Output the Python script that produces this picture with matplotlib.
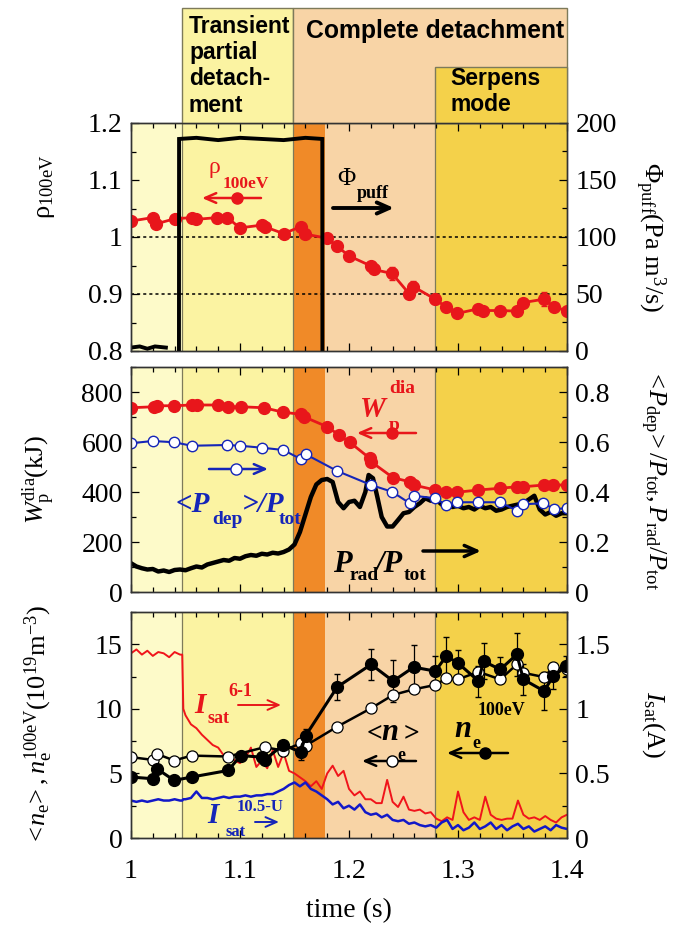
import numpy as np
import matplotlib
matplotlib.use('Agg')
import matplotlib.pyplot as plt
from matplotlib.patches import Rectangle, FancyArrowPatch
from matplotlib.lines import Line2D
from matplotlib.ticker import MultipleLocator, FuncFormatter

plt.rcParams['font.family'] = ['Liberation Serif', 'DejaVu Serif']
plt.rcParams['mathtext.fontset'] = 'custom'
plt.rcParams['mathtext.rm'] = 'Liberation Serif'
plt.rcParams['mathtext.it'] = 'Liberation Serif:italic'
plt.rcParams['mathtext.bf'] = 'Liberation Serif:bold'

# ---------------- data ----------------
region_edges = [1.0, 1.047, 1.149, 1.178, 1.279, 1.4]
region_colors = ['#FDFAC9', '#FBF3A2', '#F08A28', '#F8D4A6', '#F4D14A']
region_names = ['Transient\npartial\ndetach-\nment', 'Complete detachment', 'Serpens\nmode']

rho_t = [1.000, 1.0198, 1.023, 1.040, 1.056, 1.060, 1.079, 1.0885, 1.0998, 1.1205, 1.1226,
         1.140, 1.1556, 1.160, 1.1795, 1.189, 1.1998, 1.2203, 1.2225, 1.2395, 1.2554, 1.259,
         1.279, 1.289, 1.2995, 1.3186, 1.3232, 1.3387, 1.354, 1.360, 1.379, 1.388, 1.3998]
rho = [1.028, 1.034, 1.023, 1.032, 1.034, 1.031, 1.034, 1.034, 1.016, 1.021, 1.018,
       1.006, 1.018, 1.005, 0.998, 0.984, 0.967, 0.949, 0.943, 0.936, 0.900, 0.913,
       0.891, 0.877, 0.866, 0.874, 0.871, 0.871, 0.870, 0.885, 0.891, 0.877, 0.871]
rho_err = [0, 0, 0, 0, 0, 0, 0, 0, 0, 0, 0, 0, 0, 0, 0,
           0.004, 0.005, 0.006, 0.006, 0.012, 0.006, 0.010, 0.008, 0.006, 0.004,
           0.005, 0.005, 0.005, 0.005, 0.006, 0.012, 0.006, 0.005]

puff_t = [1.000, 1.008, 1.015, 1.022, 1.032, 1.0321, 1.0440, 1.0441, 1.060, 1.080, 1.100,
          1.120, 1.140, 1.160, 1.1755, 1.1756]
puff = [3, 4, 2, 4, 3, np.nan, 0, 186, 187, 185, 187, 186, 185, 187, 186, 0]

wp_t = [1.000, 1.0213, 1.0238, 1.0397, 1.0556, 1.0604, 1.0794, 1.0891, 1.1007, 1.1220,
        1.1398, 1.1556, 1.1586, 1.1800, 1.1907, 1.2007, 1.2190, 1.2203, 1.2405, 1.2557,
        1.2593, 1.2792, 1.2892, 1.2990, 1.3188, 1.3387, 1.3540, 1.3600, 1.3789, 1.3875, 1.3997]
wp = [737, 741, 745, 745, 748, 748, 748, 741, 741, 737, 719, 711, 701, 661, 628, 599,
      535, 521, 457, 441, 428, 408, 399, 399, 408, 415, 421, 421, 428, 428, 428]

pdep_t = [1.000, 1.0199, 1.0396, 1.0556, 1.0885, 1.1000, 1.1205, 1.1398, 1.1556, 1.1602,
          1.1892, 1.2203, 1.2395, 1.2557, 1.2593, 1.2792, 1.2892, 1.2990, 1.3188, 1.3387,
          1.3545, 1.3600, 1.3783, 1.3881, 1.3997]
pdep = [0.595, 0.604, 0.599, 0.585, 0.588, 0.585, 0.577, 0.568, 0.532, 0.551, 0.484,
        0.428, 0.401, 0.355, 0.385, 0.375, 0.348, 0.359, 0.359, 0.359, 0.324, 0.351,
        0.355, 0.332, 0.335]

prad_t = [1.000, 1.005, 1.010, 1.015, 1.020, 1.025, 1.030, 1.035, 1.040, 1.045,
          1.050, 1.055, 1.060, 1.065, 1.070, 1.075, 1.080, 1.085, 1.090, 1.095,
          1.100, 1.105, 1.110, 1.115, 1.120, 1.125, 1.130, 1.135, 1.140, 1.145,
          1.150, 1.155, 1.160, 1.165, 1.170, 1.175, 1.180, 1.185, 1.190, 1.195,
          1.200, 1.205, 1.210, 1.215, 1.218, 1.222, 1.226,
          1.230, 1.235, 1.240, 1.245, 1.250, 1.255, 1.260, 1.265, 1.270, 1.275,
          1.280, 1.285, 1.290, 1.295, 1.300, 1.305, 1.310, 1.315, 1.320, 1.325,
          1.330, 1.335, 1.340, 1.345, 1.350, 1.355, 1.360, 1.365, 1.370, 1.375,
          1.380, 1.385, 1.390, 1.395, 1.400]
prad = [0.115, 0.102, 0.095, 0.090, 0.092, 0.082, 0.086, 0.080, 0.088, 0.090,
        0.087, 0.095, 0.102, 0.098, 0.110, 0.116, 0.122, 0.128, 0.125, 0.136,
        0.133, 0.143, 0.148, 0.145, 0.153, 0.150, 0.157, 0.154, 0.160, 0.170,
        0.190, 0.240, 0.310, 0.380, 0.430, 0.448, 0.452, 0.440, 0.360, 0.335,
        0.360, 0.365, 0.340, 0.400, 0.468, 0.455, 0.380,
        0.300, 0.262, 0.262, 0.288, 0.315, 0.320, 0.340, 0.355, 0.375, 0.365,
        0.370, 0.350, 0.345, 0.340, 0.345, 0.335, 0.340, 0.330, 0.345, 0.335,
        0.340, 0.325, 0.330, 0.340, 0.345, 0.350, 0.355, 0.370, 0.385, 0.330,
        0.310, 0.320, 0.305, 0.315, 0.315]

ne100_t = [1.000, 1.0199, 1.0238, 1.0396, 1.0556, 1.0891, 1.1007, 1.1205, 1.1226, 1.1398,
           1.1556, 1.1602, 1.1892, 1.2203, 1.2405, 1.2593, 1.2792, 1.2892, 1.2998, 1.3188,
           1.3234, 1.3387, 1.3540, 1.3600, 1.3789, 1.3875, 1.3995]
ne100 = [4.72, 4.59, 5.36, 4.46, 4.72, 5.23, 6.38, 6.26, 6.05, 7.23, 6.64, 7.92, 11.69,
         13.44, 12.15, 13.23, 12.92, 14.08, 13.56, 12.15, 13.69, 13.05, 14.21, 12.28,
         11.38, 12.54, 13.31]
ne100_err = [0, 0, 0, 0, 0, 0, 0, 0, 0, 0, 0.6, 0.5, 1.0, 1.2, 1.6, 1.7, 1.2, 1.5, 1.0,
             1.2, 1.4, 1.0, 1.7, 1.2, 1.5, 1.0, 0.8]

neavg_t = [1.000, 1.0199, 1.0238, 1.0396, 1.0556, 1.0891, 1.1226, 1.1398, 1.1556, 1.1602,
           1.1892, 1.2203, 1.2405, 1.2593, 1.2792, 1.2892, 1.2998, 1.3188, 1.3387, 1.3540,
           1.3600, 1.3789, 1.3875, 1.3997]
neavg = [6.26, 6.05, 6.51, 6.00, 6.38, 6.31, 7.03, 6.77, 7.33, 7.15, 8.62, 10.05, 11.08,
         11.51, 11.85, 12.36, 12.28, 12.87, 12.28, 13.44, 12.79, 12.46, 13.23, 13.05]

isat_t = [1.000, 1.005, 1.010, 1.015, 1.020, 1.025, 1.030, 1.035, 1.040, 1.045,
          1.047, 1.048,
          1.050, 1.055, 1.060, 1.065, 1.070, 1.075, 1.080, 1.085, 1.090, 1.095,
          1.100, 1.105, 1.110, 1.115, 1.120, 1.125, 1.130, 1.135, 1.140, 1.145,
          1.150, 1.155, 1.160, 1.165, 1.170, 1.175, 1.180, 1.185, 1.190, 1.195,
          1.200, 1.205, 1.210, 1.215, 1.220, 1.225, 1.230, 1.235, 1.240, 1.245,
          1.250, 1.255, 1.260, 1.265, 1.270, 1.275, 1.280, 1.285, 1.290, 1.295,
          1.300, 1.305, 1.310, 1.315, 1.320, 1.325, 1.330, 1.335, 1.340, 1.345,
          1.350, 1.355, 1.360, 1.365, 1.370, 1.375, 1.380, 1.385, 1.390, 1.395,
          1.400]
isat_61 = [1.43, 1.46, 1.42, 1.45, 1.41, 1.44, 1.43, 1.40, 1.44, 1.42,
           1.42, 1.00,
           0.95, 0.88, 0.85, 0.80, 0.76, 0.72, 0.70, 0.64, 0.66, 0.60,
           0.58, 0.62, 0.70, 0.55, 0.60, 0.54, 0.68, 0.55, 0.66, 0.52,
           0.50, 0.47, 0.44, 0.40, 0.44, 0.38, 0.50, 0.56, 0.48, 0.52,
           0.38, 0.33, 0.36, 0.30, 0.30, 0.27, 0.27, 0.45, 0.28, 0.24,
           0.32, 0.22, 0.21, 0.22, 0.19, 0.20, 0.15, 0.13, 0.16, 0.14,
           0.36, 0.20, 0.14, 0.16, 0.14, 0.32, 0.18, 0.15, 0.14, 0.15,
           0.15, 0.29, 0.18, 0.15, 0.16, 0.14, 0.17, 0.14, 0.12, 0.16,
           0.18]
isat_105 = [0.29, 0.28, 0.29, 0.28, 0.29, 0.30, 0.29, 0.29, 0.30, 0.29,
            0.29, 0.30,
            0.30, 0.31, 0.36, 0.31, 0.31, 0.30, 0.31, 0.32, 0.31, 0.32,
            0.32, 0.33, 0.32, 0.33, 0.33, 0.34, 0.34, 0.36, 0.38, 0.41,
            0.43, 0.40, 0.43, 0.38, 0.36, 0.33, 0.30, 0.26, 0.28, 0.23,
            0.25, 0.22, 0.26, 0.20, 0.18, 0.19, 0.16, 0.18, 0.14, 0.13,
            0.14, 0.11, 0.12, 0.10, 0.09, 0.10, 0.08, 0.12, 0.14, 0.07,
            0.10, 0.06, 0.08, 0.12, 0.07, 0.09, 0.12, 0.07, 0.10, 0.06,
            0.09, 0.11, 0.07, 0.09, 0.05, 0.07, 0.09, 0.06, 0.10, 0.08,
            0.07]

# ---------------- layout ----------------
W, H = 686, 936
fig = plt.figure(figsize=(W / 100, H / 100), dpi=100)


def rect(x0, y0, x1, y1):
    return [x0 / W, 1 - y1 / H, (x1 - x0) / W, (y1 - y0) / H]


ax1 = fig.add_axes(rect(131, 123, 567, 351))
ax2 = fig.add_axes(rect(131, 367, 567, 592))
ax3 = fig.add_axes(rect(131, 612, 567, 838))
axh = fig.add_axes(rect(131, 8, 567, 123))

ax1r = ax1.twinx()
ax2r = ax2.twinx()
ax3b = ax3.twinx()      # density (left axis) drawn above the Isat traces
ax3.yaxis.tick_right()
ax3.yaxis.set_label_position('right')
ax3b.yaxis.tick_left()
ax3b.yaxis.set_label_position('left')

edge_col = '#7d7a5a'
for ax in (ax1, ax2, ax3):
    for i in range(len(region_colors)):
        ax.axvspan(region_edges[i], region_edges[i + 1], color=region_colors[i], lw=0, zorder=0)
    for e in (region_edges[1], region_edges[2], region_edges[4]):
        ax.axvline(e, color=edge_col, lw=0.9, zorder=0.5)
    ax.set_xlim(1.0, 1.4)

# header boxes
axh.set_xlim(1.0, 1.4)
axh.set_ylim(0, 1)
axh.axis('off')
axh.add_patch(Rectangle((region_edges[1], 0), region_edges[2] - region_edges[1], 1,
                        fc=region_colors[1], ec=edge_col, lw=1, clip_on=False))
axh.add_patch(Rectangle((region_edges[2], 0), 1.4 - region_edges[2], 1,
                        fc=region_colors[3], ec=edge_col, lw=1, clip_on=False))
axh.add_patch(Rectangle((region_edges[4], 0), 1.4 - region_edges[4], 56 / 115,
                        fc=region_colors[4], ec=edge_col, lw=1, clip_on=False))
hfont = dict(family='Liberation Sans', weight='bold', color='black')
fig.text(189 / W, 1 - 15 / H, region_names[0], ha='left', va='top', linespacing=1.18,
         fontsize=16.5, **hfont)
fig.text(306 / W, 1 - 31 / H, region_names[1], ha='left', va='center', fontsize=17.8, **hfont)
fig.text(450 / W, 1 - 67 / H, region_names[2], ha='left', va='top', linespacing=1.18,
         fontsize=16.5, **hfont)

# ---------------- panel 1 ----------------
ax1.axhline(1.0, color='k', ls=(0, (2, 2)), lw=1.1, zorder=1)
ax1.axhline(0.9, color='k', ls=(0, (2, 2)), lw=1.1, zorder=1)
ax1.errorbar(rho_t, rho, yerr=rho_err, fmt='-o', color='#E8161B', ms=8.5, lw=2,
             elinewidth=1, capsize=2, zorder=3)
ax1.set_ylim(0.8, 1.2)
ax1r.plot(puff_t, puff, color='black', lw=2.8, solid_joinstyle='miter')
ax1r.set_ylim(0, 200)

# ---------------- panel 2 ----------------
ax2.plot(wp_t, wp, '-o', color='#E8161B', ms=8.5, lw=2, zorder=3)
ax2.set_ylim(0, 900)
ax2r.plot(prad_t, prad, color='black', lw=3.2)
ax2r.plot(pdep_t, pdep, '-o', color='#1525B8', mfc='white', mec='#1525B8', mew=1.0,
          ms=7.5, lw=1.5)
ax2r.set_ylim(0, 0.9)

# ---------------- panel 3 ----------------
ax3.plot(isat_t, isat_61, color='#F0141B', lw=1.4)
ax3.plot(isat_t, isat_105, color='#1218C8', lw=1.8)
ax3.set_ylim(0, 1.75)
ax3b.errorbar(ne100_t, ne100, yerr=ne100_err, fmt='-o', color='black', ms=8.5, lw=2.2,
              elinewidth=0.9, capsize=2.5)
ax3b.plot(neavg_t, neavg, '-o', color='black', mfc='white', mec='black', mew=0.9,
          ms=8, lw=1.8)
ax3b.set_ylim(0, 17.5)

# ---------------- ticks ----------------
fmt = FuncFormatter(lambda v, p: f'{v:g}')
for ax in (ax1, ax2, ax3):
    ax.xaxis.set_major_locator(MultipleLocator(0.1))
    ax.xaxis.set_minor_locator(MultipleLocator(0.02))
    ax.xaxis.set_major_formatter(fmt)
    ax.tick_params(axis='x', which='both', direction='in', top=True, bottom=True,
                   labelbottom=False, labelsize=20)
    ax.tick_params(axis='x', which='major', length=6, width=0.9, pad=15)
    ax.tick_params(axis='x', which='minor', length=3.5, width=0.9)
ax3.tick_params(axis='x', labelbottom=True)

for ax, maj, mnr, side in ((ax1, 0.1, 0.05, 'left'), (ax1r, 50, 25, 'right'),
                           (ax2, 200, 100, 'left'), (ax2r, 0.2, 0.1, 'right'),
                           (ax3b, 5, 2.5, 'left'), (ax3, 0.5, 0.25, 'right')):
    ax.yaxis.set_major_locator(MultipleLocator(maj))
    ax.yaxis.set_minor_locator(MultipleLocator(mnr))
    ax.yaxis.set_major_formatter(fmt)
    ax.tick_params(axis='y', which='both', direction='in', labelsize=20, pad=6,
                   left=(side == 'left'), right=(side == 'right'),
                   labelleft=(side == 'left'), labelright=(side == 'right'))
    ax.tick_params(axis='y', which='major', length=6, width=0.9)
    ax.tick_params(axis='y', which='minor', length=3.5, width=0.9)

for ax in (ax1, ax2, ax3, ax1r, ax2r, ax3b):
    for s in ax.spines.values():
        s.set_linewidth(1.0)
        s.set_color('#333333')

ax3.set_xlabel('time (s)', fontsize=20, labelpad=10)

# ---------------- axis labels ----------------
lab = dict(fontsize=19)
ax1.set_ylabel(r'$\mathrm{\rho}_{\rm 100eV}$', **lab)
ax1.yaxis.set_label_coords(-0.17, 0.72)
ax2.set_ylabel(r'$W_{\rm p}^{\rm dia}$(kJ)', **lab)
ax2.yaxis.set_label_coords(-0.17, 0.5)
ax3b.set_ylabel(r'$<\!n_{\rm e}\!>, n_{\rm e}^{\rm 100eV}(10^{19}{\rm m}^{-3})$', **lab)
ax3b.yaxis.set_label_coords(-0.175, 0.5)
ax1r.set_ylabel(r'$\Phi_{\rm puff}$(Pa m$^3$/s)', rotation=270, **lab)
ax1r.yaxis.set_label_coords(1.23, 0.5)
ax2r.set_ylabel(r'$<\!P_{\rm dep}\!>/P_{\rm tot}, P_{\rm rad}/P_{\rm tot}$', rotation=270, **lab)
ax2r.yaxis.set_label_coords(1.23, 0.5)
ax3.set_ylabel(r'$I_{\rm sat}$(A)', rotation=270, **lab)
ax3.yaxis.set_label_coords(1.23, 0.5)


# ---------------- annotations (figure pixel positions) ----------------
def T(x, y, s, size, color, bold=True, italic=False):
    fig.text(x / W, 1 - y / H, s, fontsize=size, color=color, ha='left', va='baseline',
             family='Liberation Serif', weight='bold' if bold else 'normal',
             style='italic' if italic else 'normal', zorder=10)


def arrow(x0, x1, y, color, lw, hw=0.35, hl=0.8, ms=10):
    fig.add_artist(FancyArrowPatch(
        (x0 / W, 1 - y / H), (x1 / W, 1 - y / H), transform=fig.transFigure,
        arrowstyle=f'->,head_length={hl},head_width={hw}', color=color, lw=lw,
        mutation_scale=ms, shrinkA=0, shrinkB=0, zorder=10))


def dot(x, y, color, face):
    fig.add_artist(Line2D([x / W], [1 - y / H], transform=fig.transFigure, marker='o',
                          ms=8, color=color, mfc=face, mec=color, mew=1.0, zorder=11))


red, blue = '#E8161B', '#1525B8'
# panel 1
T(209, 173, 'ρ', 17, red, bold=False)
T(223, 188, '100eV', 12.5, red)
arrow(261, 202, 198, red, 1.8)
dot(237, 198, red, red)
T(337, 185, 'Φ', 18, 'black', bold=False)
T(357, 198, 'puff', 13, 'black')
arrow(333, 394, 208, 'black', 2.8, hw=0.4, hl=0.9)
# panel 2
T(360, 417, 'W', 21, red, italic=True)
T(389, 393, 'dia', 14, red)
T(389, 430, 'p', 14, red)
arrow(416, 357, 433, red, 1.8)
dot(392, 433, red, red)
arrow(209, 268, 469, blue, 1.8)
dot(236, 469, blue, 'white')
T(176, 512, '<P', 21, blue, italic=True)
T(212, 524, 'dep', 14, blue)
T(242, 512, '>/P', 21, blue, italic=True)
T(279, 524, 'tot', 14, blue)
T(333, 572, 'P', 22, 'black', italic=True)
T(350, 580, 'rad', 14, 'black')
T(376, 572, '/P', 22, 'black', italic=True)
T(404, 580, 'tot', 14, 'black')
arrow(423, 481, 551, 'black', 2.5, hw=0.4, hl=0.9)
# panel 3
T(194, 713, 'I', 21, red, italic=True)
T(208, 723, 'sat', 13, red)
T(228, 696, '6-1', 13, red)
arrow(238, 281, 705, red, 1.4)
T(207, 823, 'I', 21, blue, italic=True)
T(226, 836, 'sat', 12, blue)
T(237, 811, '10.5-U', 12, blue)
arrow(255, 279, 822, blue, 1.4)
T(367, 740, '<', 20, 'black')
T(381, 740, 'n', 22, 'black', italic=True)
T(404, 740, '>', 20, 'black')
T(397, 760, 'e', 13, 'black')
arrow(416, 362, 761, 'black', 1.8)
dot(392, 761, 'black', 'white')
T(454, 737, 'n', 22, 'black', italic=True)
T(472, 748, 'e', 13, 'black')
T(478, 715, '100eV', 13, 'black')
arrow(508, 447, 753, 'black', 1.8)
dot(485, 753, 'black', 'black')

fig.savefig('out.png', dpi=100)
